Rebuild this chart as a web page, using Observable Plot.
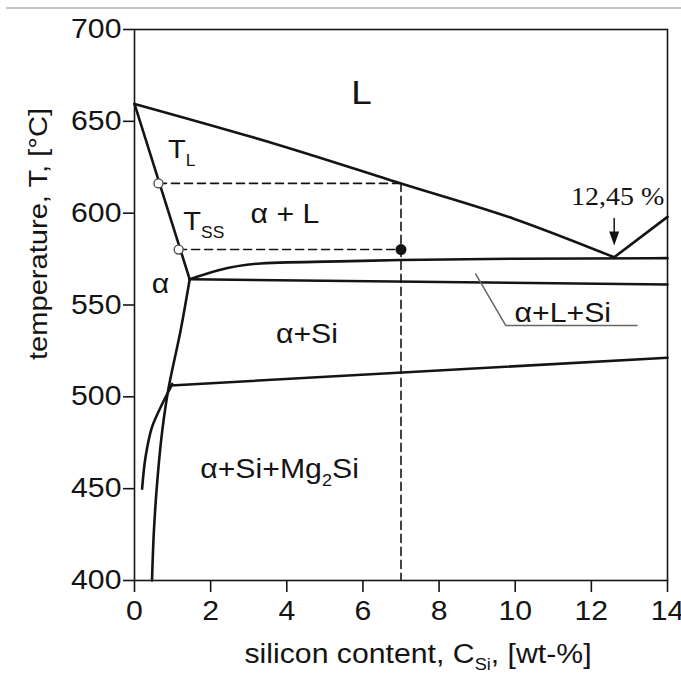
<!DOCTYPE html>
<html>
<head>
<meta charset="utf-8">
<script src="https://cdn.jsdelivr.net/npm/d3@7"></script>
<script src="https://cdn.jsdelivr.net/npm/@observablehq/plot@0.6"></script>
<style>
  html, body { margin: 0; padding: 0; background: #fff; }
  #wrap { position: relative; width: 681px; height: 675px; overflow: hidden; }
  #topline { position: absolute; left: 6px; right: 0; top: 7px; border-top: 2px solid #c4c4c4; }
  #chart { position: absolute; left: 0; top: 0; }
</style>
</head>
<body>
<div id="wrap"><div id="chart"></div><div id="topline"></div></div>
<script>
// ---- data (silicon content [wt-%], temperature [°C]) ----
const xTicks = [0, 2, 4, 6, 8, 10, 12, 14];
const yTicks = [400, 450, 500, 550, 600, 650, 700];

const liquidus      = [[0, 659.5], [3.83, 636.9], [7, 616.2], [9.96, 597], [12.6, 576]];
const liquidusSi    = [[12.6, 576], [14, 598]];
const solidus       = [[0, 659.5], [1.45, 564]];
const solvus        = [[1.45, 564], [1.21, 536], [0.9, 505.3], [0.73, 481.7], [0.6, 454.5], [0.51, 427], [0.46, 400]];
const eutecticUpper = [[1.45, 564], [2.18, 568.8], [3.31, 572.6], [5.67, 573.9], [7, 574.5], [10, 575.2], [14, 575.5]];
const eutecticLower = [[1.45, 564], [14, 561.2]];
const mg2siSolvus   = [[0.2, 450], [0.29, 467.2], [0.46, 483.5], [0.73, 496.2], [0.95, 505.3], [0.99, 507]];
const ternaryLine   = [[0.95, 506.2], [14, 521.3]];

const dashTL   = [[0.63, 616.2], [7, 616.2]];
const dashTSS  = [[1.16, 580.2], [7, 580.2]];
const dashC0   = [[7, 616.2], [7, 400]];
const openPts  = [[0.63, 616.2], [1.16, 580.2]];
const alloyPt  = [[7, 580.2]];

const leader     = [[8.96, 567], [9.75, 538.9], [13.2, 538.9]];
const arrowShaft = [[12.6, 597.1], [12.6, 589]];
const arrowTip   = [[12.6, 582.4]];

const bigLabels   = [{c: 5.96, t: 659.7, s: "L"}];
const phaseLabels = [
  {c: 3.95, t: 594.9, s: "α + L"},
  {c: 0.68, t: 556.3, s: "α"},
  {c: 4.53, t: 529.2, s: "α+Si"},
  {c: 3.81, t: 455.8, s: "α+Si+Mg_{2}Si"}
];
const tempLabels  = [
  {c: 0.88, t: 629.8, s: "T_{L}"},
  {c: 1.28, t: 590.6, s: "T_{SS}"}
];
const ternaryLabel  = [{c: 11.25, t: 540.6, s: "α+L+Si"}];
const eutecticLabel = [{c: 12.69, t: 604.2, s: "12,45 %"}];
const xLabel = "silicon content, C_{Si}, [wt-%]";
const yLabel = "temperature, T, [°C]";

// ---- chart ----
const ink = "#141414";
const tri = { draw(ctx) { ctx.moveTo(-5, -14); ctx.lineTo(5, -14); ctx.lineTo(0, 0); ctx.closePath(); } };
const L = (pts, o = {}) => Plot.line(pts, {x: d => d[0], y: d => d[1], stroke: ink, strokeWidth: 2.6, ...o});

const chart = Plot.plot({
  width: 681,
  height: 675,
  marginLeft: 134,
  marginRight: 14,
  marginTop: 29,
  marginBottom: 95,
  style: {fontFamily: "'Liberation Sans', Arial, sans-serif", fontSize: "27px", color: ink, background: "transparent"},
  x: {domain: [0, 14]},
  y: {domain: [400, 700]},
  marks: [
    Plot.axisX({ticks: xTicks, tickSize: 12, tickPadding: 8, fontSize: 27, label: null, strokeWidth: 1.6}),
    Plot.axisY({ticks: yTicks, tickSize: 11, tickPadding: 2, fontSize: 27, label: null, strokeWidth: 1.6}),
    Plot.frame({stroke: ink, strokeWidth: 1.6}),
    L(dashTL, {strokeWidth: 1.6, strokeDasharray: "8,5"}),
    L(dashTSS, {strokeWidth: 1.6, strokeDasharray: "8,5"}),
    L(dashC0, {strokeWidth: 1.6, strokeDasharray: "8,5"}),
    L(liquidus, {curve: "monotone-x"}), L(liquidusSi), L(solidus),
    L(solvus, {curve: "catmull-rom"}),
    L(eutecticUpper, {curve: "monotone-x"}), L(eutecticLower),
    L(mg2siSolvus, {curve: "catmull-rom"}), L(ternaryLine),
    L(leader, {stroke: "#666", strokeWidth: 1.5}),
    L(arrowShaft, {strokeWidth: 1.5}),
    Plot.dot(arrowTip, {x: d => d[0], y: d => d[1], symbol: tri, fill: ink, stroke: "none"}),
    Plot.dot(openPts, {x: d => d[0], y: d => d[1], r: 4.5, fill: "white", stroke: "#444", strokeWidth: 1.3}),
    Plot.dot(alloyPt, {x: d => d[0], y: d => d[1], r: 5.5, fill: ink, stroke: "none"}),
    Plot.text(bigLabels, {x: "c", y: "t", text: "s", fontSize: 33, lineAnchor: "bottom", fill: ink}),
    Plot.text(phaseLabels, {x: "c", y: "t", text: "s", fontSize: 27, lineAnchor: "bottom", fill: ink}),
    Plot.text(tempLabels, {x: "c", y: "t", text: "s", fontSize: 26, lineAnchor: "bottom", textAnchor: "start", fill: ink}),
    Plot.text(ternaryLabel, {x: "c", y: "t", text: "s", fontSize: 27, lineAnchor: "bottom", fill: ink}),
    Plot.text(eutecticLabel, {x: "c", y: "t", text: "s", fontSize: 25, lineAnchor: "bottom", fill: ink, fontFamily: "'Liberation Serif', 'Times New Roman', serif"}),
    Plot.text([xLabel], {text: d => d, frameAnchor: "bottom", textAnchor: "middle", dx: 17, dy: 82, lineAnchor: "bottom", fontSize: 27, fill: ink}),
    Plot.text([yLabel], {text: d => d, frameAnchor: "left", textAnchor: "middle", lineAnchor: "middle", dx: -96, dy: -71, rotate: -90, fontSize: 26, fill: ink})
  ]
});

const sel = d3.select(chart);

// turn "_{...}" markup into subscript tspans
sel.selectAll("text").each(function () {
  const t = this.textContent;
  if (!t.includes("_{")) return;
  const fs = parseFloat(this.getAttribute("font-size")) || parseFloat(this.parentNode.getAttribute("font-size")) || 27;
  const shift = fs * 0.28;
  const parts = t.split(/(_\{[^}]*\})/);
  const el = d3.select(this);
  el.text(null);
  let prevSub = false;
  parts.forEach(p => {
    if (!p) return;
    if (p.startsWith("_{")) {
      el.append("tspan").attr("dy", shift).attr("font-size", fs * 0.6).text(p.slice(2, -1));
      prevSub = true;
    } else {
      const ts = el.append("tspan").text(p);
      if (prevSub) ts.attr("dy", -shift);
      prevSub = false;
    }
  });
});

// the reference lettering is slightly wide: stretch each text about its anchor
const STRETCH = 1.12;
sel.selectAll("text").each(function () {
  const tr = this.getAttribute("transform");
  if (tr) {
    this.setAttribute("transform", tr + ` scale(${STRETCH},1)`);
  } else {
    const x = +this.getAttribute("x") || 0, y = +this.getAttribute("y") || 0;
    this.removeAttribute("x"); this.removeAttribute("y");
    this.setAttribute("transform", `translate(${x},${y}) scale(${STRETCH},1)`);
  }
});

document.getElementById("chart").append(chart);
</script>
</body>
</html>
